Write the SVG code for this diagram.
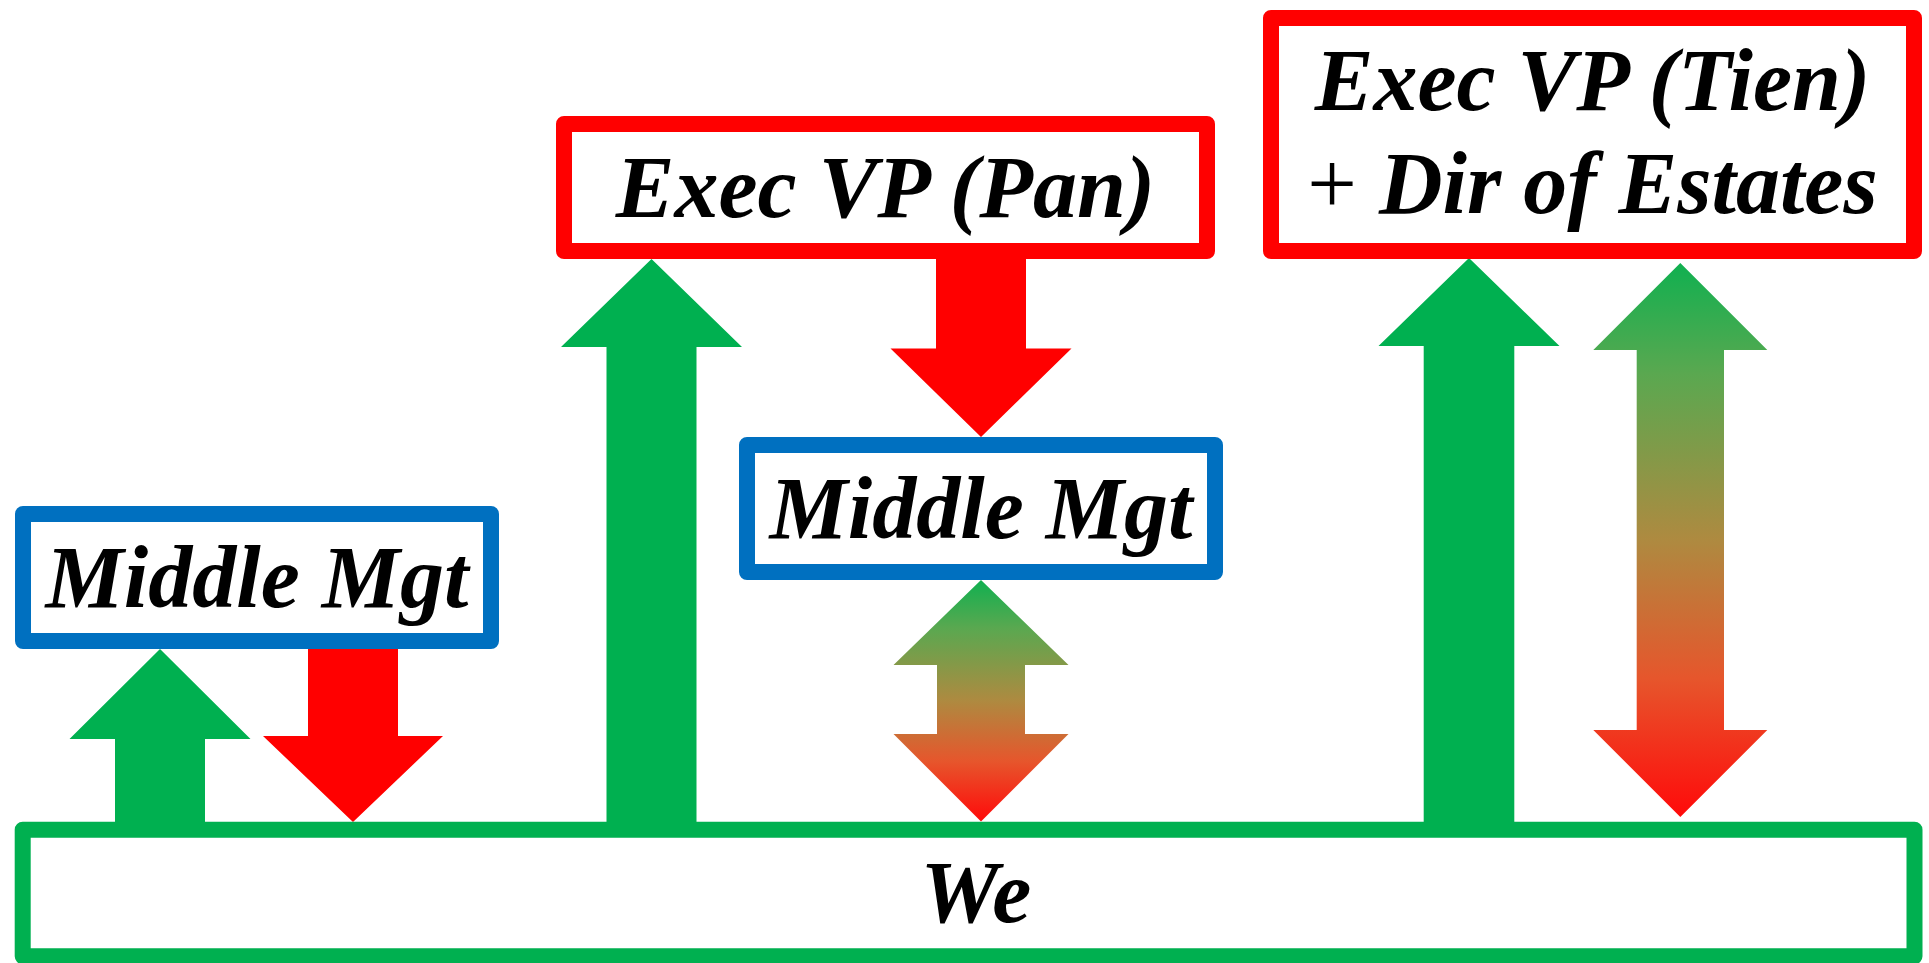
<svg xmlns="http://www.w3.org/2000/svg" width="1929" height="963" viewBox="0 0 1929 963">
  <defs>
    <linearGradient id="gr" x1="0" y1="0" x2="0" y2="1">
      <stop offset="0" stop-color="#10B050"/>
      <stop offset="0.2" stop-color="#5AA850"/>
      <stop offset="0.5" stop-color="#AE8A40"/>
      <stop offset="0.75" stop-color="#E6562C"/>
      <stop offset="1" stop-color="#FF0A0A"/>
    </linearGradient>
    <style>
      .box { fill: #FFFFFF; stroke-width: 16; stroke-linejoin: round; }
      .blue { stroke: #0070C0; }
      .red { stroke: #FF0000; }
      .green { stroke: #00B050; }
      .lbl { font-family: "Liberation Serif", "Times New Roman", serif; font-weight: bold; font-style: italic; font-size: 88px; fill: #000000; text-anchor: middle; }
      .plain { font-style: normal; font-weight: normal; }
      .up { fill: #00B050; }
      .down { fill: #FF0000; }
      .both { fill: url(#gr); }
    </style>
  </defs>
  <rect x="0" y="0" width="1929" height="963" fill="#FFFFFF"/>

  <g id="connectors">
    <polygon class="up" points="160,649 250.5,739 205,739 205,830 115,830 115,739 69.5,739"/>
    <polygon class="down" points="308,641 398,641 398,736 443,736 353,822 263,736 308,736"/>
    <polygon class="up" points="651.5,259 742,347 696.5,347 696.5,830 606.5,830 606.5,347 561,347"/>
    <polygon class="down" points="936,251 1026,251 1026,348.5 1071.5,348.5 981,437 890.5,348.5 936,348.5"/>
    <polygon class="both" points="981,580 1068.5,665 1025,665 1025,734 1068.5,734 981,821.5 893.5,734 937,734 937,665 893.5,665"/>
    <polygon class="up" points="1469,258 1559.5,346 1514.3,346 1514.3,830 1423.7,830 1423.7,346 1378.5,346"/>
    <polygon class="both" points="1680.3,263 1767.3,350 1724,350 1724,730 1767.3,730 1680.3,817 1593.3,730 1636.7,730 1636.7,350 1593.3,350"/>
  </g>

  <g id="node-we">
    <rect class="box green" x="22.7" y="829.7" width="1891.8" height="126.6"/>
    <text class="lbl" x="976" y="922">We</text>
  </g>
  <g id="node-middle-mgt-1">
    <rect class="box blue" x="23" y="514" width="468" height="127"/>
    <text class="lbl" x="257" y="607">Middle Mgt</text>
  </g>
  <g id="node-middle-mgt-2">
    <rect class="box blue" x="747" y="445" width="468" height="127"/>
    <text class="lbl" x="981" y="538">Middle Mgt</text>
  </g>
  <g id="node-exec-vp-pan">
    <rect class="box red" x="564" y="124" width="643" height="127"/>
    <text class="lbl" x="885.5" y="217">Exec VP (Pan)</text>
  </g>
  <g id="node-exec-vp-tien">
    <rect class="box red" x="1271" y="18" width="643" height="233"/>
    <text class="lbl" x="1592.5" y="110">Exec VP (Tien)</text>
    <text class="lbl" x="1592.5" y="213"><tspan class="plain">+</tspan> Dir of Estates</text>
  </g>
</svg>
